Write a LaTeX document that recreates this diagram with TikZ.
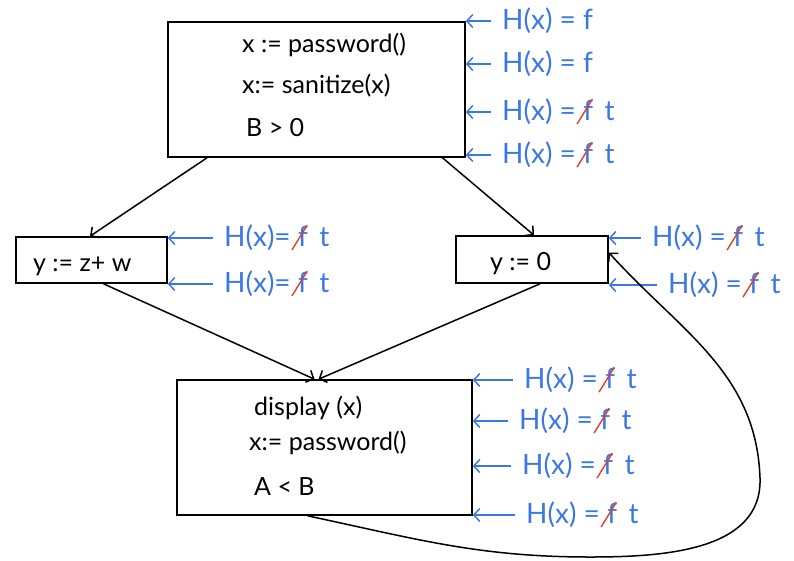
\documentclass[tikz,border=0pt]{standalone}
\usepackage{fontspec}
\setmainfont{Lato}
\usetikzlibrary{arrows.meta,calc}
\definecolor{annblue}{RGB}{59,120,231}
\definecolor{strikered}{RGB}{224,64,42}
% labelled annotation with a struck-out f: name, x, y, text before f
\newcommand{\strlab}[4]{%
  \node[lab] (#1) at (#2,#3) {#4};
  \node[lab,anchor=base west,inner sep=0pt] (#1f) at ([xshift=4pt]#1.base east) {f};
  \node[lab,anchor=base west,inner sep=0pt] (#1t) at ([xshift=11pt]#1f.base east) {t};
  \draw[strike] ([xshift=-6pt,yshift=-3pt]#1f.south west) -- ([xshift=-1pt,yshift=1pt]#1f.north east);}
\begin{document}
\begin{tikzpicture}[x=1pt,y=-1pt,
  box/.style={draw,line width=1.6pt,inner sep=0pt},
  code/.style={anchor=west,inner sep=0pt,font=\fontsize{25}{30}\selectfont},
  lab/.style={anchor=west,inner sep=3pt,text=annblue,font=\fontsize{28}{32}\selectfont},
  strike/.style={draw=strikered,line width=1.4pt},
  ann/.style={draw=annblue,line width=1.5pt,-{Straight Barb[length=6pt,width=13pt]}},
  flow/.style={draw=black,line width=1.5pt,-{Straight Barb[length=6pt,width=13pt]}}]
\useasboundingbox (0,0) rectangle (794,560);
% boxes
\node[box,minimum width=297pt,minimum height=135pt] (top) at (316.5,89.5) {};
\node[box,minimum width=151pt,minimum height=46pt] (left) at (91.5,260) {};
\node[box,minimum width=152pt,minimum height=47pt] (right) at (532,259.5) {};
\node[box,minimum width=295pt,minimum height=135pt] (bot) at (324.5,447.5) {};
% box texts
\node[code] (t1) at (242,45) {x := password()};
\node[code] (t2) at (242,86) {x:= sanitize(x)};
\node[code] (t3) at (246,128) {B > 0};
\node[code] (l1) at (33,266) {y := z+ w};
\node[code] (r1) at (490,264) {y := 0};
\node[code] (b1) at (254,408) {display (x)};
\node[code] (b2) at (249,443) {x:= password()};
\node[code] (b3) at (254,487) {A < B};
% annotations, top box
\node[lab] (a1) at (499,21) {H(x) = f};
\node[lab] (a2) at (499,64) {H(x) = f};
\strlab{a3}{499}{112}{H(x) =}
\strlab{a4}{499}{155}{H(x) =}
\foreach \n in {a1,a2,a3,a4}{\draw[ann] ([xshift=-8pt]\n.west) -- (\n.west -| top.east);}
% annotations, left box
\strlab{c1}{221}{238}{H(x)=}
\strlab{c2}{221}{284}{H(x)=}
\foreach \n in {c1,c2}{\draw[ann] ([xshift=-8pt]\n.west) -- (\n.west -| left.east);}
% annotations, right box
\strlab{d1}{649}{238}{H(x) =}
\strlab{d2}{665}{285}{H(x) =}
\foreach \n in {d1,d2}{\draw[ann] ([xshift=-8pt]\n.west) -- (\n.west -| right.east);}
% annotations, bottom box
\strlab{e1}{521}{380}{H(x) =}
\strlab{e2}{516}{421}{H(x) =}
\strlab{e3}{519}{466}{H(x) =}
\strlab{e4}{523}{515}{H(x) =}
\foreach \n in {e1,e2,e3,e4}{\draw[ann] ([xshift=-8pt]\n.west) -- (\n.west -| bot.east);}
% flow edges
\draw[flow] ([xshift=-109.5pt]top.south) -- ([xshift=-1.5pt]left.north);
\draw[flow] ([xshift=126pt]top.south) -- ([xshift=2pt]right.north);
\draw[flow] ([xshift=12pt]left.south) -- ([xshift=-10pt]bot.north);
\draw[flow] ([xshift=8pt]right.south) -- ([xshift=-6pt]bot.north);
\draw[flow] ([xshift=-17pt]bot.south) to[out=-12,in=180] (590,557)
  to[out=0,in=-88] (760,478) to[out=92,in=-48] ([yshift=7pt]right.east);
\end{tikzpicture}
\end{document}
